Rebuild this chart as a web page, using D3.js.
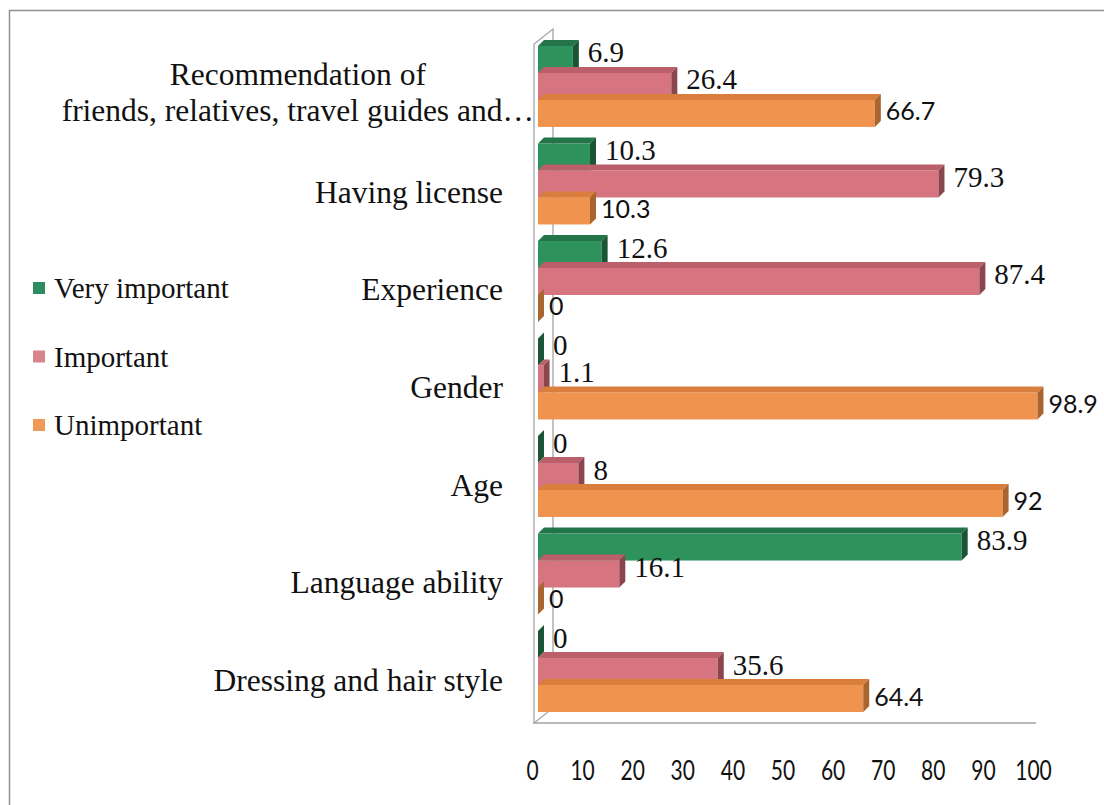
<!DOCTYPE html>
<html>
<head>
<meta charset="utf-8">
<script src="https://cdn.jsdelivr.net/npm/d3@7"></script>
<style>
  html, body { margin: 0; padding: 0; background: #fff; }
  svg { display: block; }
</style>
</head>
<body>
<svg id="chart" width="1104" height="805"></svg>
<script>
// Categories (top to bottom) and the three rating series, in percent
const categories = [
  "Recommendation of\nfriends, relatives, travel guides and…",
  "Having license",
  "Experience",
  "Gender",
  "Age",
  "Language ability",
  "Dressing and hair style"
];
const seriesNames = ["Very important", "Important", "Unimportant"];
const veryImportant = [6.9, 10.3, 12.6, 0, 0, 83.9, 0];
const important     = [26.4, 79.3, 87.4, 1.1, 8, 16.1, 35.6];
const unimportant   = [66.7, 10.3, 0, 98.9, 92, 0, 64.4];
const xTicks = [0, 10, 20, 30, 40, 50, 60, 70, 80, 90, 100];

const seriesValues = [veryImportant, important, unimportant];

// Face colours for the 3D boxes: front, top, right side
const palette = {
  "Very important": { front: "#2e925d", top: "#237549", side: "#1a5536", key: "#2f8c62" },
  "Important":      { front: "#d6747f", top: "#bb5f6b", side: "#8a454e", key: "#d8848d" },
  "Unimportant":    { front: "#f0934f", top: "#d97e3c", side: "#a9652f", key: "#f09a5a" }
};
const serif = "'Liberation Serif', 'Times New Roman', serif";
const sans = "Lato, 'Open Sans', sans-serif";
const labelFont = { "Very important": serif, "Important": serif, "Unimportant": sans };
const labelSize = { "Very important": 29, "Important": 29, "Unimportant": 25 };
const labelShift = { "Very important": 3, "Important": 3, "Unimportant": 7 };
const labelGap = { "Very important": 9, "Important": 9, "Unimportant": 5 };

const svg = d3.select("#chart");

// Outer frame (top and left edges)
svg.append("path")
  .attr("d", "M9.5,805 L9.5,10.5 L1104,10.5")
  .attr("fill", "none").attr("stroke", "#8f8f8f").attr("stroke-width", 1.5);

// Scales
const x = d3.scaleLinear().domain([0, 100]).range([538, 1043]);
const xTick = d3.scaleLinear().domain([0, 100]).range([532, 1033]);
const y = d3.scaleBand().domain(categories).range([46, 712]).paddingInner(0.17);
const ys = d3.scaleBand().domain(seriesNames).range([0, y.bandwidth()]);
const dx = 6, dy = 6;

// Side wall and floor outline of the 3D plot area
svg.append("path")
  .attr("d", "M534,723 L534,44 L553,29 L553,708 L534,723 L1036,723")
  .attr("fill", "none").attr("stroke", "#a4a4a4").attr("stroke-width", 1.3);

// Bars, drawn top to bottom so each top face sits over the bar above it
const rows = [];
categories.forEach((c, i) => {
  seriesNames.forEach((s, j) => {
    rows.push({ cat: c, series: s, value: seriesValues[j][i] });
  });
});

const bars = svg.append("g");
rows.forEach(d => {
  const x0 = x(0), x1 = x(d.value);
  const yt = y(d.cat) + ys(d.series), h = ys.bandwidth();
  const col = palette[d.series];
  const g = bars.append("g");
  g.append("rect")
    .attr("x", x0).attr("y", yt).attr("width", Math.max(0, x1 - x0)).attr("height", h)
    .attr("fill", col.front);
  g.append("path")
    .attr("d", `M${x0},${yt} L${x1},${yt} L${x1 + dx},${yt - dy} L${x0 + dx},${yt - dy} Z`)
    .attr("fill", col.top);
  g.append("path")
    .attr("d", `M${x1},${yt} L${x1 + dx},${yt - dy} L${x1 + dx},${yt + h - dy} L${x1},${yt + h} Z`)
    .attr("fill", col.side);
});

// Value labels
svg.append("g").selectAll("text").data(rows).join("text")
  .attr("x", d => x(d.value) + dx + labelGap[d.series])
  .attr("y", d => y(d.cat) + ys(d.series) + ys.bandwidth() / 2 + labelShift[d.series])
  .attr("font-family", d => labelFont[d.series])
  .attr("font-size", d => labelSize[d.series])
  .attr("fill", "#111")
  .text(d => d.value);

// Category labels (multi-line labels are centred on their longest line)
const catG = svg.append("g").attr("font-family", serif).attr("font-size", 31.5).attr("fill", "#111");
categories.forEach(c => {
  const lines = c.split("\n");
  const cy = y(c) + y.bandwidth() / 2 + 19;
  if (lines.length === 1) {
    catG.append("text").attr("x", 503).attr("y", cy).attr("text-anchor", "end").text(c);
  } else {
    const widths = lines.map(l => {
      const n = catG.append("text").text(l);
      const w = n.node().getComputedTextLength();
      n.remove();
      return w;
    });
    const cx = 534 - d3.max(widths) / 2;
    const t = catG.append("text").attr("text-anchor", "middle");
    lines.forEach((l, k) => {
      t.append("tspan").attr("x", cx)
        .attr("y", cy - 2 + (k - (lines.length - 1) / 2) * 36)
        .text(l);
    });
  }
});

// Value axis labels
const axis = d3.axisBottom(xTick).tickValues(xTicks).tickSize(0).tickPadding(0);
const ax = svg.append("g").attr("transform", "translate(0,776)").call(axis);
ax.select(".domain").remove();
ax.selectAll("text")
  .attr("font-family", sans)
  .attr("font-size", 21)
  .attr("fill", "#111")
  .attr("transform", "scale(1,1.3)")
  .attr("dy", "0.15em");

// Legend
const legend = svg.append("g").attr("font-family", serif).attr("font-size", 29).attr("fill", "#111");
seriesNames.forEach((s, i) => {
  const ly = 288 + i * 68.5;
  legend.append("rect").attr("x", 33).attr("y", ly - 6).attr("width", 12).attr("height", 12)
    .attr("fill", palette[s].key);
  legend.append("text").attr("x", 54).attr("y", ly + 10).text(s);
});
</script>
</body>
</html>
